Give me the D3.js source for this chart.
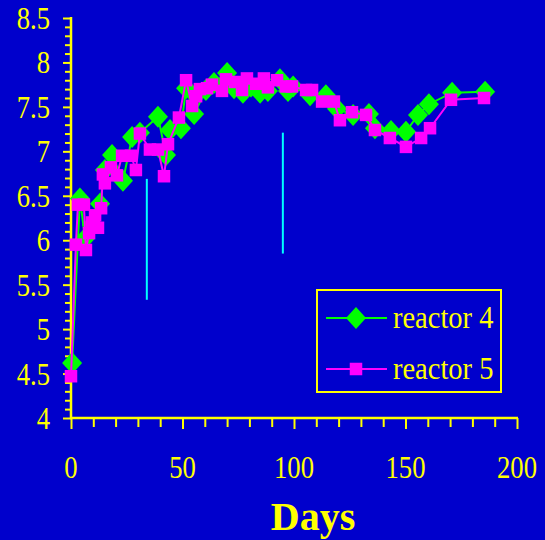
<!DOCTYPE html>
<html>
<head>
<meta charset="utf-8">
<script src="https://cdn.jsdelivr.net/npm/d3@7"></script>
<style>
  html, body { margin: 0; padding: 0; background: #0000CC; }
  svg { display: block; }
</style>
</head>
<body>
<svg id="chart" width="545" height="540"></svg>
<script>
// pH over time in two reactors
const days4 = [0.5, 4, 6.3, 9.4, 13, 15.2, 18.4, 23.3, 27.4, 30.9, 39, 42.6, 44.4, 49.3, 51.6,
  55.2, 60.5, 64.1, 70, 73.1, 77.1, 80.7, 84.8, 88.3, 93.7, 97.3, 99.6, 107.2, 114.3, 119.3,
  126.5, 133.6, 136.3, 143.5, 150.2, 155.6, 160.5, 170.9, 185.7];
const ph4 = [4.62, 6.47, 6.02, 6.17, 6.41, 6.79, 6.96, 6.67, 7.16, 7.21, 7.39, 6.96, 7.24, 7.26, 7.71,
  7.42, 7.69, 7.77, 7.88, 7.71, 7.66, 7.73, 7.66, 7.68, 7.81, 7.68, 7.73, 7.63, 7.63, 7.48,
  7.41, 7.42, 7.26, 7.23, 7.22, 7.41, 7.53, 7.66, 7.67];

const days5 = [0, 2.2, 3.1, 5.8, 6.7, 8.1, 9.4, 10.8, 12.1, 13.5, 14.3, 15.2, 17.9, 20.6, 22.9,
  26.9, 29.1, 30.9, 35.4, 39.0, 41.7, 43.5, 48.4, 51.6, 54.3, 56.1, 57.8, 61.0, 63.2, 67.7,
  69.5, 73.5, 76.7, 78.9, 83.0, 86.5, 88.3, 92.4, 96.4, 99.1, 105.4, 108.1, 112.6, 117.9, 120.6,
  126.0, 132.3, 136.3, 143.0, 150.2, 157.0, 161.0, 170.4, 185.2];
const ph5 = [4.47, 5.95, 6.40, 6.40, 5.89, 6.08, 6.20, 6.28, 6.14, 6.36, 6.74, 6.64, 6.82, 6.73, 6.95,
  6.95, 6.79, 7.20, 7.02, 7.02, 6.72, 7.08, 7.38, 7.80, 7.51, 7.62, 7.70, 7.71, 7.75, 7.68,
  7.81, 7.78, 7.69, 7.82, 7.76, 7.82, 7.72, 7.80, 7.73, 7.73, 7.69, 7.69, 7.56, 7.56, 7.35,
  7.44, 7.41, 7.24, 7.15, 7.05, 7.15, 7.26, 7.58, 7.60];

// vertical event markers: day, lower pH, upper pH
const markerDays = [34, 95];
const markerLow = [5.33, 5.85];
const markerHigh = [6.69, 7.21];

const seriesNames = ["reactor 4", "reactor 5"];
const xTickLabels = [0, 50, 100, 150, 200];
const yTickLabels = [4, 4.5, 5, 5.5, 6, 6.5, 7, 7.5, 8, 8.5];

const YELLOW = "#FFFF00", GREEN = "#00FF00", MAGENTA = "#FF00FF", CYAN = "#00FFFF";
const FONT = "'Liberation Serif', 'Times New Roman', serif";

const svg = d3.select("#chart");
svg.append("rect").attr("width", 545).attr("height", 540).attr("fill", "#0000CC");

const x = d3.scaleLinear().domain([0, 200]).range([71, 517]);
const y = d3.scaleLinear().domain([4, 8.5]).range([418, 18]);

// --- axes ---
const yMinor = d3.range(40, 86).map(v => v / 10);
const yAxis = d3.axisLeft(y).tickValues(yMinor).tickSize(6).tickFormat("");
const gy = svg.append("g").attr("transform", `translate(${x(0)},0)`).call(yAxis);
gy.select(".domain").remove();
gy.selectAll(".tick line").attr("stroke", YELLOW).attr("stroke-width", 2)
  .attr("x2", d => (Math.abs(d * 2 - Math.round(d * 2)) < 1e-6 ? -8 : -6));

const xMinor = d3.range(0, 201, 10);
const xAxis = d3.axisBottom(x).tickValues(xMinor).tickSize(9).tickFormat("");
const gx = svg.append("g").attr("transform", `translate(0,${y(4)})`).call(xAxis);
gx.select(".domain").remove();
gx.selectAll(".tick line").attr("stroke", YELLOW).attr("stroke-width", 2)
  .attr("y2", d => (d % 50 === 0 ? 11 : 9));

// axis lines
svg.append("line").attr("x1", x(0)).attr("x2", x(0)).attr("y1", y(8.5) - 1).attr("y2", y(4) + 1)
  .attr("stroke", YELLOW).attr("stroke-width", 2.5);
svg.append("line").attr("x1", x(0) - 1).attr("x2", x(200) + 1).attr("y1", y(4)).attr("y2", y(4))
  .attr("stroke", YELLOW).attr("stroke-width", 2.5);

// tick labels (narrow serif face)
svg.append("g").selectAll("text").data(yTickLabels).join("text")
  .attr("transform", d => `translate(50,${y(d) + 11}) scale(0.86,1)`)
  .attr("text-anchor", "end")
  .attr("font-family", FONT).attr("font-size", 31).attr("fill", YELLOW)
  .text(d => d);

svg.append("g").selectAll("text").data(xTickLabels).join("text")
  .attr("transform", d => `translate(${x(d)},478) scale(0.86,1)`)
  .attr("text-anchor", "middle")
  .attr("font-family", FONT).attr("font-size", 31).attr("fill", YELLOW)
  .text(d => d);

svg.append("text").attr("x", 313).attr("y", 530)
  .attr("text-anchor", "middle").attr("font-family", FONT)
  .attr("font-size", 40).attr("font-weight", "bold").attr("fill", YELLOW)
  .text("Days");

// --- event markers ---
svg.append("g").selectAll("line").data(markerDays).join("line")
  .attr("x1", d => x(d)).attr("x2", d => x(d))
  .attr("y1", (d, i) => y(markerLow[i])).attr("y2", (d, i) => y(markerHigh[i]))
  .attr("stroke", CYAN).attr("stroke-width", 2);

// --- series ---
const diamond = (cx, cy) => `M${cx},${cy - 11}L${cx + 10},${cy}L${cx},${cy + 11}L${cx - 10},${cy}Z`;
const line = d3.line().x(d => x(d[0])).y(d => y(d[1]));

const r4 = days4.map((d, i) => [d, ph4[i]]);
const r5 = days5.map((d, i) => [d, ph5[i]]);

svg.append("path").datum(r4).attr("d", line).attr("fill", "none")
  .attr("stroke", GREEN).attr("stroke-width", 2);
svg.append("g").selectAll("path").data(r4).join("path")
  .attr("d", d => diamond(x(d[0]), y(d[1]))).attr("fill", GREEN);

svg.append("path").datum(r5).attr("d", line).attr("fill", "none")
  .attr("stroke", MAGENTA).attr("stroke-width", 2);
svg.append("g").selectAll("rect").data(r5).join("rect")
  .attr("x", d => x(d[0]) - 6.25).attr("y", d => y(d[1]) - 6.25)
  .attr("width", 12.5).attr("height", 12.5).attr("fill", MAGENTA);

// --- legend ---
const lg = svg.append("g");
lg.append("rect").attr("x", 317).attr("y", 290).attr("width", 184).attr("height", 102)
  .attr("fill", "none").attr("stroke", YELLOW).attr("stroke-width", 2);
const rows = [318, 369];
const colors = [GREEN, MAGENTA];
seriesNames.forEach((name, i) => {
  const cy = rows[i];
  lg.append("line").attr("x1", 326).attr("x2", 387).attr("y1", cy).attr("y2", cy)
    .attr("stroke", colors[i]).attr("stroke-width", 2);
  if (i === 0) {
    lg.append("path").attr("d", diamond(356, cy)).attr("fill", GREEN);
  } else {
    lg.append("rect").attr("x", 356 - 6.25).attr("y", cy - 6.25)
      .attr("width", 12.5).attr("height", 12.5).attr("fill", MAGENTA);
  }
  lg.append("text").attr("transform", `translate(393,${cy + 10}) scale(0.89,1)`)
    .attr("font-family", FONT).attr("font-size", 32).attr("fill", YELLOW)
    .text(name);
});
</script>
</body>
</html>
